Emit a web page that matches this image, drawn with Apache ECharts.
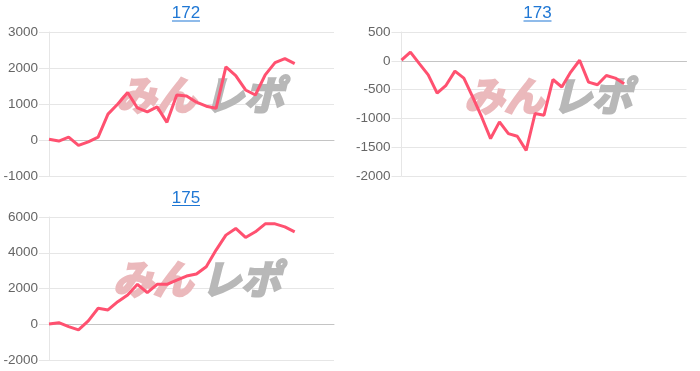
<!DOCTYPE html>
<html>
<head>
<meta charset="utf-8">
<script src="https://cdn.jsdelivr.net/npm/echarts@6/dist/echarts.min.js"></script>
<style>
html,body{margin:0;padding:0;background:#fff;}
#chart{width:700px;height:371px;}
</style>
</head>
<body>
<div id="chart"></div>
<script>
// ---- data ----
const titles = ['172', '173', '175'];
const categories172 = ['1','2','3','4','5','6','7','8','9','10','11','12','13','14','15','16','17','18','19','20','21','22','23','24','25','26','27','28','29','30'];
const categories173 = ['1','2','3','4','5','6','7','8','9','10','11','12','13','14','15','16','17','18','19','20','21','22','23','24','25','26','27','28','29','30','31','32','33'];
const categories175 = ['1','2','3','4','5','6','7','8','9','10','11','12','13','14','15','16','17','18','19','20','21','22','23','24','25','26','27','28','29','30'];
const values172 = [20, -30, 80, -150, -50, 80, 720, 1000, 1320, 890, 780, 920, 490, 1250, 1220, 1050, 940, 880, 2030, 1790, 1390, 1250, 1810, 2150, 2260, 2120];
const values173 = [10, 150, -50, -245, -560, -425, -180, -300, -630, -975, -1350, -1060, -1265, -1310, -1555, -915, -945, -325, -455, -195, 10, -370, -415, -255, -300, -400];
const values175 = [20, 90, -130, -316, 186, 893, 800, 1265, 1637, 2233, 1767, 2233, 2233, 2474, 2698, 2809, 3219, 4149, 4986, 5358, 4856, 5172, 5619, 5619, 5451, 5172];
const yTicks172 = {min: -1000, max: 3000, interval: 1000};
const yTicks173 = {min: -2000, max: 500, interval: 500};
const yTicks175 = {min: -2000, max: 6000, interval: 2000};

// ---- layout ----
const grids = [
  {left: 49, top: 32, width: 285, height: 144},
  {left: 401.5, top: 32, width: 285, height: 144},
  {left: 49, top: 217, width: 285, height: 143}
];
const titlePos = [[186, 13.5], [537.5, 13.5], [186, 198]];
const logoPos = [[116, 95], [464, 96], [113, 279]];
const cats = [categories172, categories173, categories175];
const vals = [values172, values173, values175];
const ticks = [yTicks172, yTicks173, yTicks175];

const LINE = '#ff5170';
const GRID = '#e6e6e6';
const ZERO = '#c4c4c4';
const LABEL = '#666';
const FONT = '"Liberation Sans", Arial, sans-serif';
const LOGOFONT = 'italic bold 40px "Noto Sans CJK JP"';

const xAxis = [], yAxis = [], series = [], graphic = [];
for (let i = 0; i < 3; i++) {
  xAxis.push({
    type: 'category', gridIndex: i, data: cats[i], boundaryGap: false,
    axisLabel: {show: false}, axisTick: {show: false},
    axisLine: {show: true, onZero: true, lineStyle: {color: ZERO, width: 1}},
    splitLine: {show: false}
  });
  yAxis.push({
    type: 'value', gridIndex: i, min: ticks[i].min, max: ticks[i].max, interval: ticks[i].interval,
    axisLine: {show: true, lineStyle: {color: GRID}},
    axisTick: {show: true, length: 10, inside: false, lineStyle: {color: GRID}},
    axisLabel: {color: LABEL, fontSize: 13.5, fontFamily: FONT, margin: 11, formatter: v => String(v)},
    splitLine: {show: true, lineStyle: {color: GRID, width: 1}}
  });
  series.push({
    type: 'line', xAxisIndex: i, yAxisIndex: i, data: vals[i],
    showSymbol: false, symbol: 'none', smooth: false, z: 5,
    lineStyle: {color: LINE, width: 3}, itemStyle: {color: LINE}
  });
  // title (link style)
  graphic.push({
    type: 'text', x: titlePos[i][0], y: titlePos[i][1], z: 10,
    style: {text: titles[i], font: '17px ' + FONT, fill: '#1f77d4', align: 'center', verticalAlign: 'middle'}
  });
  graphic.push({
    type: 'rect', x: titlePos[i][0] - 14, y: titlePos[i][1] + 7, z: 10,
    shape: {width: 28, height: 1}, style: {fill: '#1f77d4'}
  });
  // watermark logo
  graphic.push({
    type: 'text', x: logoPos[i][0], y: logoPos[i][1], z: 1,
    style: {text: 'みん', font: LOGOFONT, fill: '#ebb9bc', stroke: '#ebb9bc', lineWidth: 2.5, align: 'left', verticalAlign: 'middle'}
  });
  graphic.push({
    type: 'text', x: logoPos[i][0] + 88, y: logoPos[i][1], z: 1,
    style: {text: 'レポ', font: LOGOFONT, fill: '#b8b8b8', stroke: '#b8b8b8', lineWidth: 2.5, align: 'left', verticalAlign: 'middle'}
  });
}

const chart = echarts.init(document.getElementById('chart'), null, {renderer: 'canvas'});
chart.setOption({
  animation: false,
  backgroundColor: '#fff',
  grid: grids,
  xAxis: xAxis,
  yAxis: yAxis,
  series: series,
  graphic: graphic
});
</script>
</body>
</html>
